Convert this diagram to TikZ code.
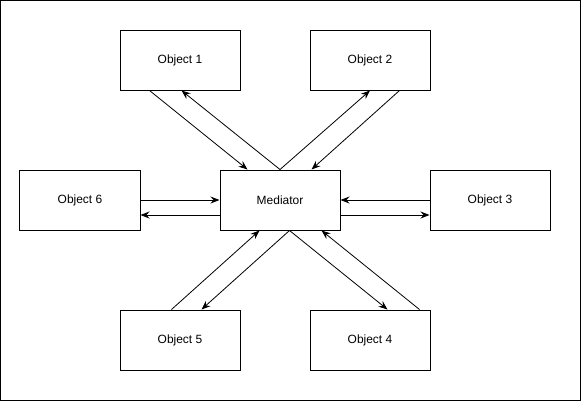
\documentclass[tikz,border=0pt]{standalone}
\usepackage{fontspec}
\setmainfont{Liberation Sans}
\usetikzlibrary{arrows.meta}

\tikzset{
  obj/.style={draw, line width=1bp, minimum width=120bp, minimum height=60bp, inner sep=0pt, font=\fontsize{12}{14}\selectfont},
  link/.style={line width=0.8bp, -{Stealth[length=9bp, width=7bp, inset=3bp]}}
}

\begin{document}
\begin{tikzpicture}[x=1bp, y=-1bp]
  \useasboundingbox (0,0) rectangle (581,401);
  \draw[line width=1bp] (0.5,0.5) rectangle (580,400);

  \node[obj] (med) at (280,200) {Mediator};
  \node[obj] (obj1) at (180,60) {Object 1};
  \node[obj] (obj2) at (370,60) {Object 2};
  \node[obj] (obj3) at (490,200) {Object 3};
  \node[obj] (obj4) at (370,340) {Object 4};
  \node[obj] (obj5) at (180,340) {Object 5};
  \node[obj] (obj6) at (80,200) {Object 6};

  \draw[link] ([xshift=30bp]obj1.south west) -- ([xshift=28bp]med.north west);
  \draw[link] (med.north) -- ([xshift=62bp]obj1.south west);
  \draw[link] (med.north) -- (obj2.south);
  \draw[link] ([xshift=90bp]obj2.south west) -- ([xshift=92bp]med.north west);
  \draw[link] (obj6.east) -- (med.west);
  \draw[link] ([yshift=-15bp]med.west) -- ([yshift=-15bp]obj6.east);
  \draw[link] (obj3.west) -- (med.east);
  \draw[link] ([yshift=-15bp]med.east) -- ([yshift=-15bp]obj3.west);
  \draw[link] ([xshift=52bp]obj5.north west) -- ([xshift=40bp]med.south west);
  \draw[link] ([xshift=70bp]med.south west) -- ([xshift=82bp]obj5.north west);
  \draw[link] ([xshift=70bp]med.south west) -- ([xshift=78bp]obj4.north west);
  \draw[link] ([xshift=110bp]obj4.north west) -- ([xshift=102bp]med.south west);
\end{tikzpicture}
\end{document}
